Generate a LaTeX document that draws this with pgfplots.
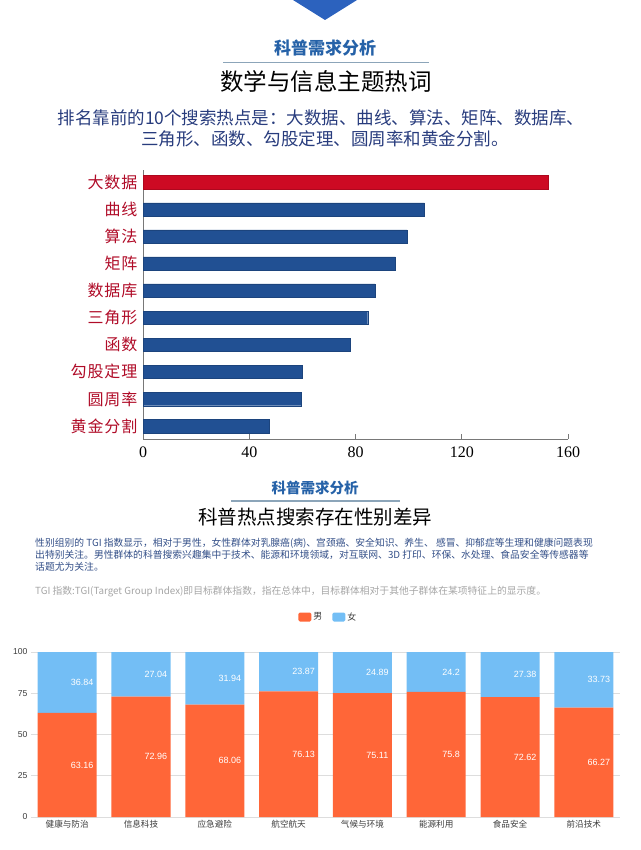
\documentclass[border=0pt]{standalone}
\usepackage{fontspec}
\usepackage{pgfplots}
\usepackage{pgfplotstable}
\pgfplotsset{compat=1.18}
\setmainfont{Noto Sans CJK SC}
\newfontfamily\cjk{Noto Sans CJK SC}
\newfontfamily\cjkwide[LetterSpace=6]{Noto Sans CJK SC}
\newfontfamily\tms{Liberation Serif}
\newfontfamily\arial{Liberation Sans}

\definecolor{barred}{RGB}{205,10,35}
\definecolor{barblue}{RGB}{33,80,147}
\definecolor{labelred}{RGB}{176,12,40}
\definecolor{titleblue}{RGB}{38,98,168}
\definecolor{triblue}{RGB}{44,98,190}
\definecolor{navy}{RGB}{40,60,125}
\definecolor{rulegray}{RGB}{140,165,185}
\definecolor{paraclr}{RGB}{50,78,135}
\definecolor{tgigray}{RGB}{165,165,165}
\definecolor{male}{RGB}{255,102,56}
\definecolor{female}{RGB}{115,190,245}
\definecolor{gridgray}{RGB}{221,221,221}
\definecolor{axgray}{RGB}{120,120,120}
\definecolor{txtgray}{RGB}{60,60,60}

\pgfplotstableread{
i m f
0 63.16 36.84
1 72.96 27.04
2 68.06 31.94
3 76.13 23.87
4 75.11 24.89
5 75.8 24.2
6 72.62 27.38
7 66.27 33.73
}\gdata

\begin{document}
\begin{tikzpicture}
\useasboundingbox (0pt,0pt) rectangle (640pt,-850pt);
% top triangle
\fill[triblue] (293pt,0pt) -- (357pt,0pt) -- (325pt,-20pt) -- cycle;

% ---------- section 1 titles ----------
\node[font=\fontsize{17}{17}\selectfont\bfseries, text=titleblue] at (325pt,-48pt) {科普需求分析};
\draw[rulegray, line width=1.5pt] (223pt,-62.5pt) -- (429pt,-62.5pt);
\node[font=\fontsize{23.5}{24}\selectfont, text=black] at (326pt,-82pt) {数学与信息主题热词};
\node[font=\fontsize{17.5}{18}\selectfont, text=navy] at (321pt,-118pt) {排名靠前的10个搜索热点是：大数据、曲线、算法、矩阵、数据库、};
\node[font=\fontsize{17.5}{18}\selectfont, text=navy] at (325pt,-139pt) {三角形、函数、勾股定理、圆周率和黄金分割。};

% ---------- horizontal bar chart ----------
\begin{axis}[
  at={(143pt,-439pt)}, anchor=south west,
  scale only axis, width=425pt, height=269pt,
  xbar, bar width=13.5pt,
  xmin=0, xmax=160, ymin=-0.48, ymax=9.46,
  axis x line*=bottom, axis y line*=left,
  axis line style={draw=axgray, line width=0.7pt, -},
  xtick={0,40,80,120,160},
  x tick style={draw=axgray, line width=0.7pt},
  major tick length=5pt, tick align=inside,
  ytick={0,1,2,3,4,5,6,7,8,9},
  yticklabels={黄金分割,圆周率,勾股定理,函数,三角形,数据库,矩阵,算法,曲线,大数据},
  y tick style={draw=none},
  yticklabel style={font=\cjkwide\fontsize{16}{16}\selectfont, text=labelred, xshift=-2pt},
  /pgf/number format/assume math mode=true,
  xticklabel style={font=\tms\fontsize{16}{16}\selectfont, text=black, yshift=-4pt},
  clip=false,
]
\addplot[bar shift=0pt, fill=barblue, draw=barblue!85!black] coordinates {
 (47.5,0) (59.6,1) (59.8,2) (77.9,3) (84.6,4) (87.3,5) (95.0,6) (99.4,7) (105.9,8)};
\addplot[bar shift=0pt, fill=barred, draw=barred!85!black] coordinates {(152.5,9)};
\end{axis}

% ---------- section 2 titles ----------
\node[font=\fontsize{14.5}{15}\selectfont\bfseries, text=titleblue] at (315pt,-488pt) {科普需求分析};
\draw[rulegray, line width=1.3pt] (231pt,-501pt) -- (400pt,-501pt);
\node[font=\fontsize{19.5}{20}\selectfont, text=black] at (315pt,-517pt) {科普热点搜索存在性别差异};
\begin{scope}[every node/.style={anchor=west, inner sep=0pt, font=\fontsize{9.8}{10}\selectfont, text=paraclr}]
\node at (35pt,-543pt) {性别组别的 TGI 指数显示，相对于男性，女性群体对乳腺癌(病)、宫颈癌、安全知识、养生、 感冒、抑郁症等生理和健康问题表现};
\node at (35pt,-555pt) {出特别关注。男性群体的科普搜索兴趣集中于技术、能源和环境领域，对互联网、3D 打印、环保、水处理、食品安全等传感器等};
\node at (35pt,-567pt) {话题尤为关注。};
\node[text=tgigray, font=\fontsize{9.8}{10}\selectfont] at (35pt,-592pt) {TGI 指数:TGI(Target Group Index)即目标群体指数，指在总体中，目标群体相对于其他子群体在某项特征上的显示度。};
\end{scope}

% ---------- stacked chart ----------
\begin{axis}[
  at={(31pt,-817pt)}, anchor=south west,
  scale only axis, width=589pt, height=165pt,
  ybar stacked, bar width=0.8,
  xmin=-0.49, xmax=7.49, ymin=0, ymax=100,
  axis line style={draw=none},
  tick style={draw=none},
  ytick={0,25,50,75,100},
  ymajorgrids, grid style={draw=gridgray, line width=0.9pt},
  xtick={0,1,2,3,4,5,6,7},
  xticklabels={健康与防治,信息科技,应急避险,航空航天,气候与环境,能源利用,食品安全,前沿技术},
  xticklabel style={font=\cjk\fontsize{8.6}{9}\selectfont, text=txtgray},
  /pgf/number format/assume math mode=true,
  yticklabel style={font=\arial\fontsize{8.6}{9}\selectfont, text=txtgray},
  legend style={draw=none, fill=none, at={(0.505,1)}, anchor=center, yshift=35pt,
    font=\cjk\fontsize{9}{9}\selectfont, text=txtgray, legend columns=2,
    /tikz/every even column/.append style={column sep=8pt}},
  clip=false,
]
\addplot[fill=male, draw=none,
  legend image code/.code={\fill[male, rounded corners=1.5pt] (0pt,-4.5pt) rectangle (13pt,4.5pt);}]
  table[x=i, y=m] {\gdata};
\addlegendentry{男}
\addplot[fill=female, draw=none,
  legend image code/.code={\fill[female, rounded corners=1.5pt] (0pt,-4.5pt) rectangle (13pt,4.5pt);}]
  table[x=i, y=f] {\gdata};
\addlegendentry{女}
\end{axis}

% value labels
\begin{axis}[
  at={(31pt,-817pt)}, anchor=south west,
  scale only axis, width=589pt, height=165pt,
  xmin=-0.49, xmax=7.49, ymin=0, ymax=100,
  hide axis, clip=false,
  nodes near coords style={font=\arial\fontsize{9}{9}\selectfont, text=white, anchor=center, xshift=15pt},
]
\addplot[only marks, mark=none, draw=none, nodes near coords, point meta=explicit symbolic]
  table[x=i, y expr=\thisrow{m}/2, meta=m] {\gdata};
\addplot[only marks, mark=none, draw=none, nodes near coords, point meta=explicit symbolic]
  table[x=i, y expr=\thisrow{m}+\thisrow{f}/2, meta=f] {\gdata};
\end{axis}
\end{tikzpicture}
\end{document}
